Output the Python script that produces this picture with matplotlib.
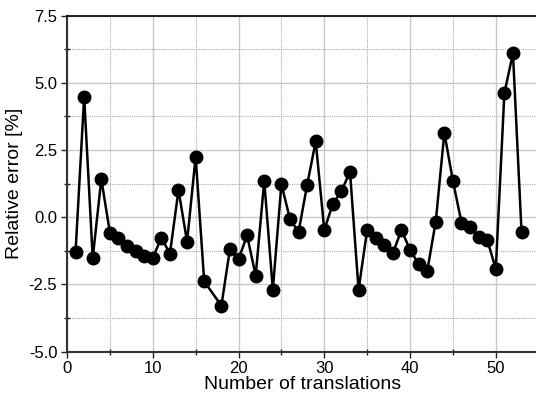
import matplotlib
matplotlib.use("Agg")
import matplotlib.pyplot as plt
from matplotlib.ticker import MultipleLocator

translations = [1, 2, 3, 4, 5, 6, 7, 8, 9, 10, 11, 12, 13, 14, 15, 16, 18, 19, 20,
                21, 22, 23, 24, 25, 26, 27, 28, 29, 30, 31, 32, 33, 34, 35, 36, 37,
                38, 39, 40, 41, 42, 43, 44, 45, 46, 47, 48, 49, 50, 51, 52, 53]
rel_error = [-1.28, 4.48, -1.52, 1.42, -0.57, -0.78, -1.09, -1.25, -1.46, -1.52,
             -0.76, -1.36, 1.01, -0.91, 2.25, -2.39, -3.29, -1.19, -1.56,
             -0.68, -2.17, 1.35, -2.70, 1.23, -0.07, -0.55, 1.20, 2.82, -0.47,
             0.49, 0.98, 1.68, -2.70, -0.47, -0.76, -1.03, -1.34, -0.47, -1.22,
             -1.74, -2.01, -0.16, 3.14, 1.35, -0.20, -0.37, -0.74, -0.84, -1.93,
             4.61, 6.10, -0.55]

plt.rcParams['font.family'] = ['Liberation Sans', 'DejaVu Sans']

fig = plt.figure(figsize=(5.36, 4.00), dpi=100)
ax = fig.add_axes([0.125, 0.121, 0.88, 0.840])

ax.plot(translations, rel_error, color='black', lw=1.8, marker='o',
        markersize=9, markerfacecolor='black', markeredgecolor='black', zorder=3)

ax.set_xlim(0, 55)
ax.set_ylim(-5.0, 7.5)
ax.xaxis.set_major_locator(MultipleLocator(10))
ax.xaxis.set_minor_locator(MultipleLocator(5))
ax.yaxis.set_major_locator(MultipleLocator(2.5))
ax.yaxis.set_minor_locator(MultipleLocator(1.25))
ax.set_yticklabels([])
ax.yaxis.set_major_formatter(matplotlib.ticker.FormatStrFormatter('%.1f'))

ax.grid(which='major', color='#c8c8c8', lw=1.0, ls='-')
ax.grid(which='minor', color='#aaaaaa', lw=0.8, ls=(0, (1, 1)))
ax.set_axisbelow(True)

for s in ['left', 'bottom']:
    ax.spines[s].set_color('#333333')
    ax.spines[s].set_linewidth(1.5)
ax.spines['top'].set_color('black')
ax.spines['top'].set_linewidth(1.2)
ax.spines['right'].set_visible(False)

ax.tick_params(which='major', direction='out', length=4, width=1, labelsize=12,
               colors='#222222', pad=3)
ax.tick_params(which='minor', direction='inout', length=4, width=1, colors='#222222')
ax.tick_params(labelcolor='black')

ax.set_xlabel('Number of translations', fontsize=14, labelpad=0)
ax.set_ylabel('Relative error [%]', fontsize=14, labelpad=4)

fig.savefig('out.png', dpi=100)
